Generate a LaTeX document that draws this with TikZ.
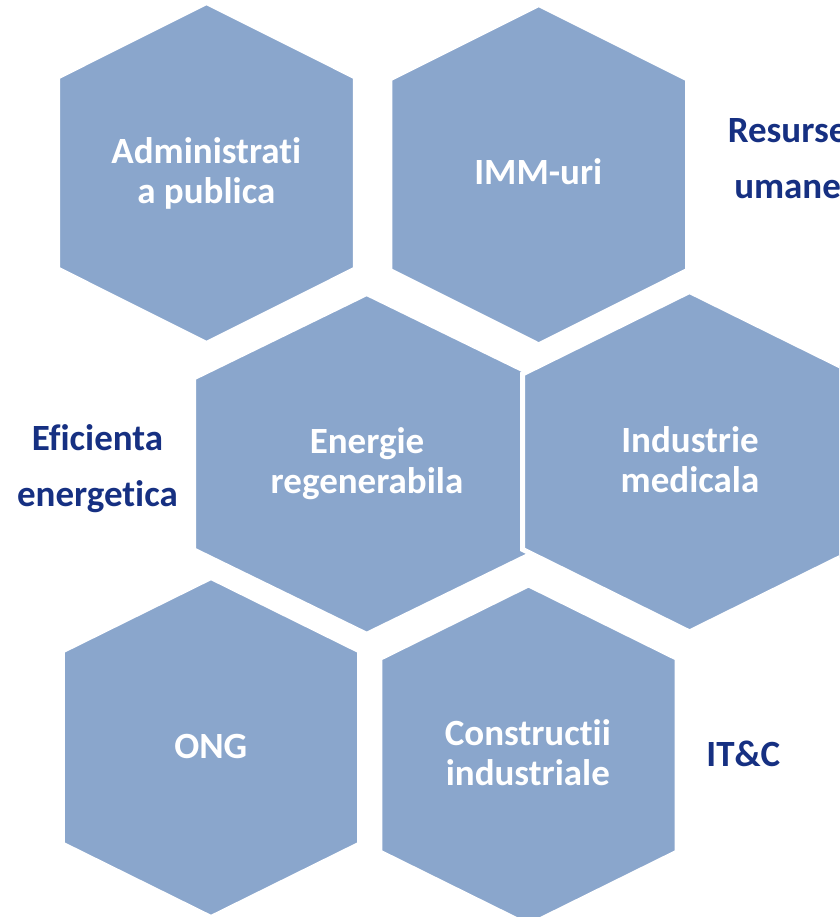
\documentclass[tikz,border=0pt]{standalone}
\usepackage{fontspec}
\setmainfont{Carlito}[Ligatures={NoCommon}]
\definecolor{hexblue}{RGB}{138,166,204}
\definecolor{labelblue}{RGB}{22,48,130}

\begin{document}
\begin{tikzpicture}[x=1pt,y=-1pt,
	hexfill/.style={fill=hexblue,draw=white,line width=5pt},
	inlabel/.style={text=white,font=\bfseries\fontsize{37}{40}\selectfont,align=center,anchor=base},
	outlabel/.style={text=labelblue,font=\bfseries\fontsize{37}{56.7}\selectfont,align=center,anchor=base}]
	% page
	\useasboundingbox (0,0) rectangle (839,917);
	\clip (0,0) rectangle (839,917);

	% hexagons: centre x / centre y / half width / half height / slant
	\foreach \cx/\cy/\w/\h/\t in {206.5/173/148.8/170.5/74.5, 538.7/174.7/148.8/170.2/74.5,
		366.7/463.9/173.2/170.4/84.5, 689.5/461.7/167/170.2/82.5,
		211/747.5/148.7/170/73.5, 528.5/755.2/148.7/170.3/73.5}
		\filldraw[hexfill] (\cx,\cy-\h) -- (\cx-\w,\cy-\h+\t) -- (\cx-\w,\cy+\h-\t)
			-- (\cx,\cy+\h) -- (\cx+\w,\cy+\h-\t) -- (\cx+\w,\cy-\h+\t) -- cycle;

	% labels inside (placed at the baseline of the last line)
	\node[inlabel] (admin) at (206.3,203.3) {Administrati\\a publica};
	\node[inlabel] (imm) at (538.3,185) {IMM-uri};
	\node[inlabel] (energie) at (367,493.3) {Energie\\regenerabila};
	\node[inlabel] (industrie) at (690,492.7) {Industrie\\medicala};
	\node[inlabel] (ong) at (210.8,758.3) {ONG};
	\node[inlabel] (constructii) at (527.8,785) {Constructii\\industriale};

	% labels outside
	\node[outlabel] (resurse) at (787.6,199) {Resurse\\umane};
	\node[outlabel] (eficienta) at (97.5,506.7) {Eficienta\\energetica};
	\node[outlabel] (itc) at (743.3,766) {IT\&C};
\end{tikzpicture}
\end{document}
